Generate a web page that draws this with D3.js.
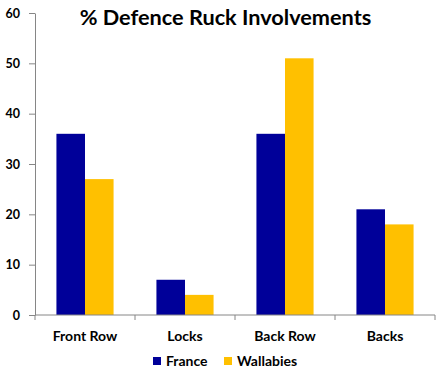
<!DOCTYPE html>
<html><head><meta charset="utf-8">
<script src="https://cdn.jsdelivr.net/npm/d3@7"></script>
<style>body{margin:0;background:#fff}svg{display:block}text{font-family:Lato,"Open Sans",sans-serif;font-weight:bold;fill:#000}</style>
</head><body>
<script>
const categories = ["Front Row","Locks","Back Row","Backs"];
const seriesNames = ["France","Wallabies"];
const france = [36,7,36,21];
const wallabies = [27,4,51,18];
const yTicks = [0,10,20,30,40,50,60];
const colors = ["#000099","#FFC000"];

const W=444,H=375;
const svg=d3.select("body").append("svg").attr("width",W).attr("height",H);
const x=d3.scaleBand().domain(categories).range([35,435]).paddingInner(0).paddingOuter(0);
const x1=d3.scaleBand().domain(seriesNames).range([0,x.bandwidth()]).paddingInner(0).paddingOuter(0.75);
const y=d3.scaleLinear().domain([0,60]).range([315,13]);

// title
svg.append("text").attr("x",225.5).attr("y",25).attr("text-anchor","middle").style("font-size","21.7px").text("% Defence Ruck Involvements");

// bars
const data=categories.map((c,i)=>({c,vals:[france[i],wallabies[i]]}));
const g=svg.selectAll("g.cat").data(data).join("g").attr("transform",d=>`translate(${x(d.c)},0)`);
g.selectAll("rect").data(d=>d.vals.map((v,j)=>({s:seriesNames[j],v,j}))).join("rect")
 .attr("x",d=>x1(d.s)).attr("width",x1.bandwidth()).attr("y",d=>y(d.v)).attr("height",d=>y(0)-y(d.v)).attr("fill",d=>colors[d.j]);

// y axis
const ya=svg.append("g").attr("transform","translate(35,0)").call(d3.axisLeft(y).tickValues(yTicks).tickSize(6).tickPadding(9).tickSizeOuter(0));
ya.selectAll("path,line").attr("stroke","#868686");
ya.selectAll("text").style("font-size","12.5px").style("font-family","Lato,sans-serif").style("font-weight","bold").attr("fill","#000");

// x axis
const xa=svg.append("g").attr("transform","translate(0,315)").call(d3.axisBottom(x).tickSize(0).tickPadding(0));
xa.select("path").attr("stroke","#868686").attr("d","M35,0H435");
xa.selectAll("text").attr("dy",null).attr("y",26).style("font-size","14px").style("font-family","Lato,sans-serif").style("font-weight","bold").attr("fill","#000");
const bounds=[...categories.map(c=>x(c)), x.range()[1]];
svg.append("g").selectAll("line").data(bounds).join("line").attr("x1",d=>d).attr("x2",d=>d).attr("y1",315).attr("y2",320).attr("stroke","#868686");

// legend
const legX=[153,224];
const leg=svg.append("g").selectAll("g").data(seriesNames).join("g").attr("transform",(d,i)=>`translate(${legX[i]},357)`);
leg.append("rect").attr("width",8).attr("height",8).attr("fill",(d,i)=>colors[i]);
leg.append("text").attr("x",13).attr("y",9).style("font-size","14px").text(d=>d);
</script>
</body></html>
